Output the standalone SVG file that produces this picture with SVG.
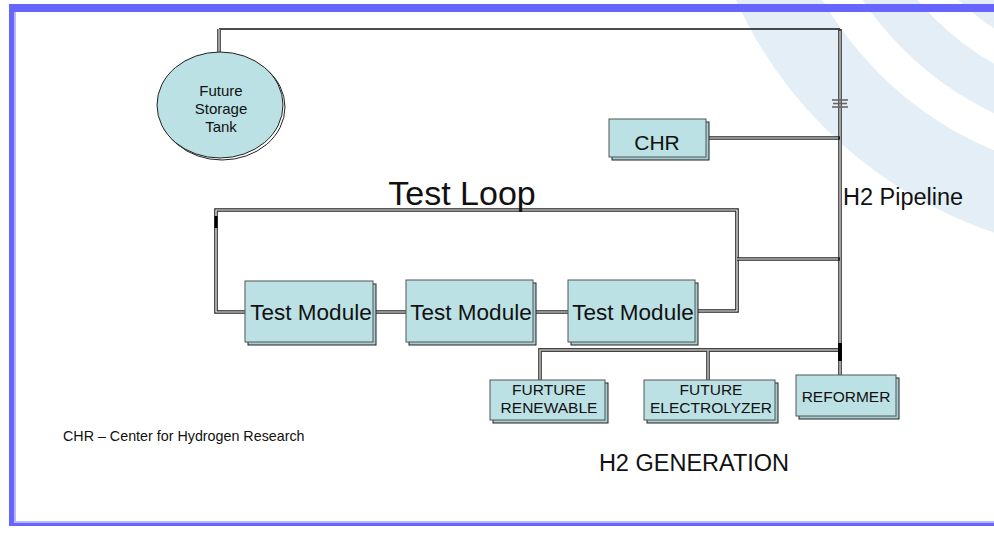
<svg xmlns="http://www.w3.org/2000/svg" width="994" height="534" viewBox="0 0 994 534">
<defs>
<style>
text{font-family:"Liberation Sans",Arial,sans-serif;fill:#111}
.box{fill:#bbe1e4;stroke:#555;stroke-width:1}
.shadow{fill:#a6cdd1;stroke:#222;stroke-width:1}
.dk{fill:none;stroke:#222;stroke-width:3.6}
.wh{fill:none;stroke:#fff;stroke-width:1.2}
.gk{fill:none;stroke:#444;stroke-width:3.8}
.gi{fill:none;stroke:#b5b5b5;stroke-width:1.6}
.wm{fill:none;stroke:#e3eef6}
</style>
</defs>
<rect width="994" height="534" fill="#fff"/>
<g id="watermark">
<circle class="wm" cx="1132" cy="-180" r="396.5" stroke-width="77"/>
<circle class="wm" cx="1132" cy="-180" r="302" stroke-width="44"/>
<circle cx="1132" cy="-180" r="250" fill="#e3eef6"/>
</g>
<g id="frame">
<rect x="9" y="4" width="985" height="8" fill="#6666ff"/>
<rect x="9" y="4" width="5" height="522" fill="#6666ff"/>
<rect x="14" y="12" width="2" height="510" fill="#b8b8ff"/>
<rect x="9" y="523" width="985" height="3" fill="#6666ff"/>
<rect x="14" y="521" width="980" height="2" fill="#b8b8ff"/>
</g>
<g id="connectors">
<line x1="219" y1="29" x2="840" y2="29" stroke="#111" stroke-width="1.3"/>
<line class="gk" x1="219" y1="29" x2="219" y2="52"/>
<line class="gi" x1="219" y1="29" x2="219" y2="52"/>
<line class="gk" x1="840" y1="29" x2="840" y2="375"/>
<line class="gi" x1="840" y1="31" x2="840" y2="375"/>
<g stroke="#666" stroke-width="1.6">
<line x1="832" y1="100" x2="848" y2="100"/>
<line x1="833" y1="103.5" x2="847" y2="103.5"/>
<line x1="832" y1="107" x2="848" y2="107"/>
</g>
<line class="dk" x1="707" y1="138" x2="840" y2="138"/>
<line class="wh" x1="707" y1="138" x2="838" y2="138"/>
<path class="dk" d="M245,312 H216 V210 H737 V311 H695"/>
<path class="wh" d="M245,312 H216 V210 H737 V311 H695"/>
<line class="dk" x1="737" y1="259" x2="840" y2="259"/>
<line class="wh" x1="737" y1="259" x2="838" y2="259"/>
<line x1="216" y1="216" x2="216" y2="228" stroke="#000" stroke-width="3"/>
<line class="dk" x1="373" y1="312" x2="406" y2="312"/>
<line class="wh" x1="373" y1="312" x2="406" y2="312"/>
<line class="dk" x1="533" y1="312" x2="568" y2="312"/>
<line class="wh" x1="533" y1="312" x2="568" y2="312"/>
<path class="gk" d="M540,380 V350 H840 M708,350 V380"/>
<path class="gi" d="M540,380 V350 H840 M708,350 V380"/>
<line x1="840" y1="343" x2="840" y2="361" stroke="#000" stroke-width="4"/>
</g>
<g id="tank">
<ellipse cx="222" cy="107" rx="63" ry="53" fill="none" stroke="#222" stroke-width="1"/>
<ellipse cx="220" cy="105" rx="63" ry="53" fill="#bbe1e4" stroke="#222" stroke-width="1"/>
<text x="221" y="96" font-size="15" text-anchor="middle">Future</text>
<text x="221" y="114" font-size="15" text-anchor="middle">Storage</text>
<text x="221" y="132" font-size="15" text-anchor="middle">Tank</text>
</g>
<g id="chr">
<rect class="shadow" x="612" y="122" width="97" height="38"/>
<rect class="box" x="609" y="119" width="97" height="38"/>
<text x="657" y="150" font-size="21" text-anchor="middle">CHR</text>
</g>
<g id="test-module-1">
<rect class="shadow" x="248" y="284" width="128" height="61"/>
<rect class="box" x="245" y="281" width="128" height="61"/>
<text x="311" y="320" font-size="22.5" text-anchor="middle">Test Module</text>
</g>
<g id="test-module-2">
<rect class="shadow" x="409" y="283" width="127" height="62"/>
<rect class="box" x="406" y="280" width="127" height="62"/>
<text x="471" y="320" font-size="22.5" text-anchor="middle">Test Module</text>
</g>
<g id="test-module-3">
<rect class="shadow" x="571" y="283" width="127" height="62"/>
<rect class="box" x="568" y="280" width="127" height="62"/>
<text x="633" y="320" font-size="22.5" text-anchor="middle">Test Module</text>
</g>
<g id="renewable">
<rect class="shadow" x="493" y="383" width="115" height="40"/>
<rect class="box" x="490" y="380" width="115" height="40"/>
<text x="549" y="395" font-size="15.5" text-anchor="middle">FURTURE</text>
<text x="549" y="413" font-size="15.5" text-anchor="middle">RENEWABLE</text>
</g>
<g id="electrolyzer">
<rect class="shadow" x="647" y="383" width="131" height="40"/>
<rect class="box" x="644" y="380" width="131" height="40"/>
<text x="711" y="395" font-size="15.5" text-anchor="middle">FUTURE</text>
<text x="711" y="413" font-size="15.5" text-anchor="middle">ELECTROLYZER</text>
</g>
<g id="reformer">
<rect class="shadow" x="799" y="378" width="100" height="41"/>
<rect class="box" x="796" y="375" width="100" height="41"/>
<text x="846" y="402" font-size="15.5" text-anchor="middle">REFORMER</text>
</g>
<g id="labels">
<text x="462" y="205" font-size="34" text-anchor="middle">Test Loop</text>
<text x="843" y="205" font-size="23.5">H2 Pipeline</text>
<text x="63" y="441" font-size="14.3">CHR – Center for Hydrogen Research</text>
<text x="694" y="471" font-size="23.5" text-anchor="middle">H2 GENERATION</text>
</g>
</svg>
